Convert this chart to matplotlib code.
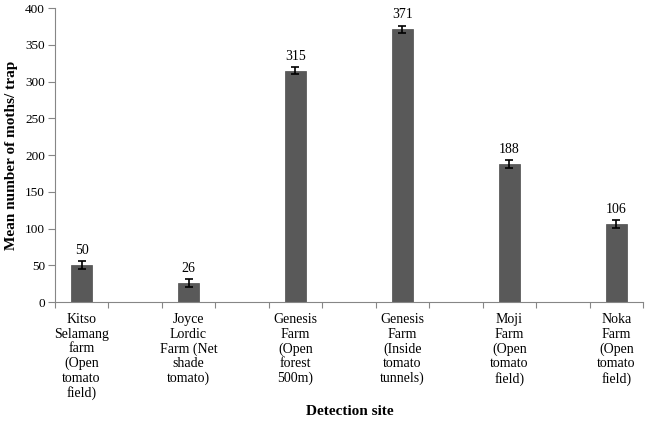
import matplotlib.pyplot as plt
import numpy as np

plt.rcParams['font.family'] = ['Liberation Serif', 'DejaVu Serif']

#-------------------Datos-------------------
sitios = ['Kitso\nSelamang\nfarm\n(Open\ntomato\nfield)',
          'Joyce\nLordic\nFarm (Net\nshade\ntomato)',
          'Genesis\nFarm\n(Open\nforest\n500m)',
          'Genesis\nFarm\n(Inside\ntomato\ntunnels)',
          'Moji\nFarm\n(Open\ntomato\nfield)',
          'Noka\nFarm\n(Open\ntomato\nfield)']
polillas = [50, 26, 315, 371, 188, 106]
error = [5.5, 5.5, 5, 5, 5, 5.5]
#-------------------------------------------

gris_eje = '#868686'
pos = np.arange(len(sitios)) * 2 + 0.5

fig = plt.figure(figsize=[6.45, 4.22], dpi=100)
ax = fig.add_axes([0.085, 0.284, 0.912, 0.697])

ax.bar(pos, polillas, width=0.39, color='#595959', edgecolor='#4d4d4d', lw=0.5,
       yerr=error, error_kw=dict(ecolor='black', elinewidth=1.2, capsize=3, capthick=1.2))

for x, v, e in zip(pos, polillas, error):
    ax.annotate(str(v), (x, v + e), xytext=(0, 3), textcoords='offset points',
                ha='center', va='bottom', fontsize=10)

ax.set_xlim(0, 2 * len(sitios) - 1)
ax.set_ylim(0, 400)
ax.set_yticks(np.arange(0, 401, 50))

ax.set_xticks(np.arange(0, 2 * len(sitios)))
ax.set_xticklabels([])
ax.set_xticks(pos, minor=True)
ax.set_xticklabels(sitios, minor=True, fontsize=10, linespacing=1.15, ha='center', va='top')
ax.tick_params(axis='x', which='minor', length=0, pad=8)
ax.tick_params(axis='x', which='major', length=4, color=gris_eje, direction='out')
ax.tick_params(axis='y', length=5, color=gris_eje, labelsize=9.5, pad=2)

for s in ['top', 'right']:
    ax.spines[s].set_visible(False)
for s in ['left', 'bottom']:
    ax.spines[s].set_color(gris_eje)

ax.set_ylabel('Mean number of moths/ trap', fontsize=11, fontweight='bold', labelpad=5)
fig.text(0.543, 0.024, 'Detection site', fontsize=11, fontweight='bold', ha='center', va='center')

plt.savefig('out.png', dpi=100)
